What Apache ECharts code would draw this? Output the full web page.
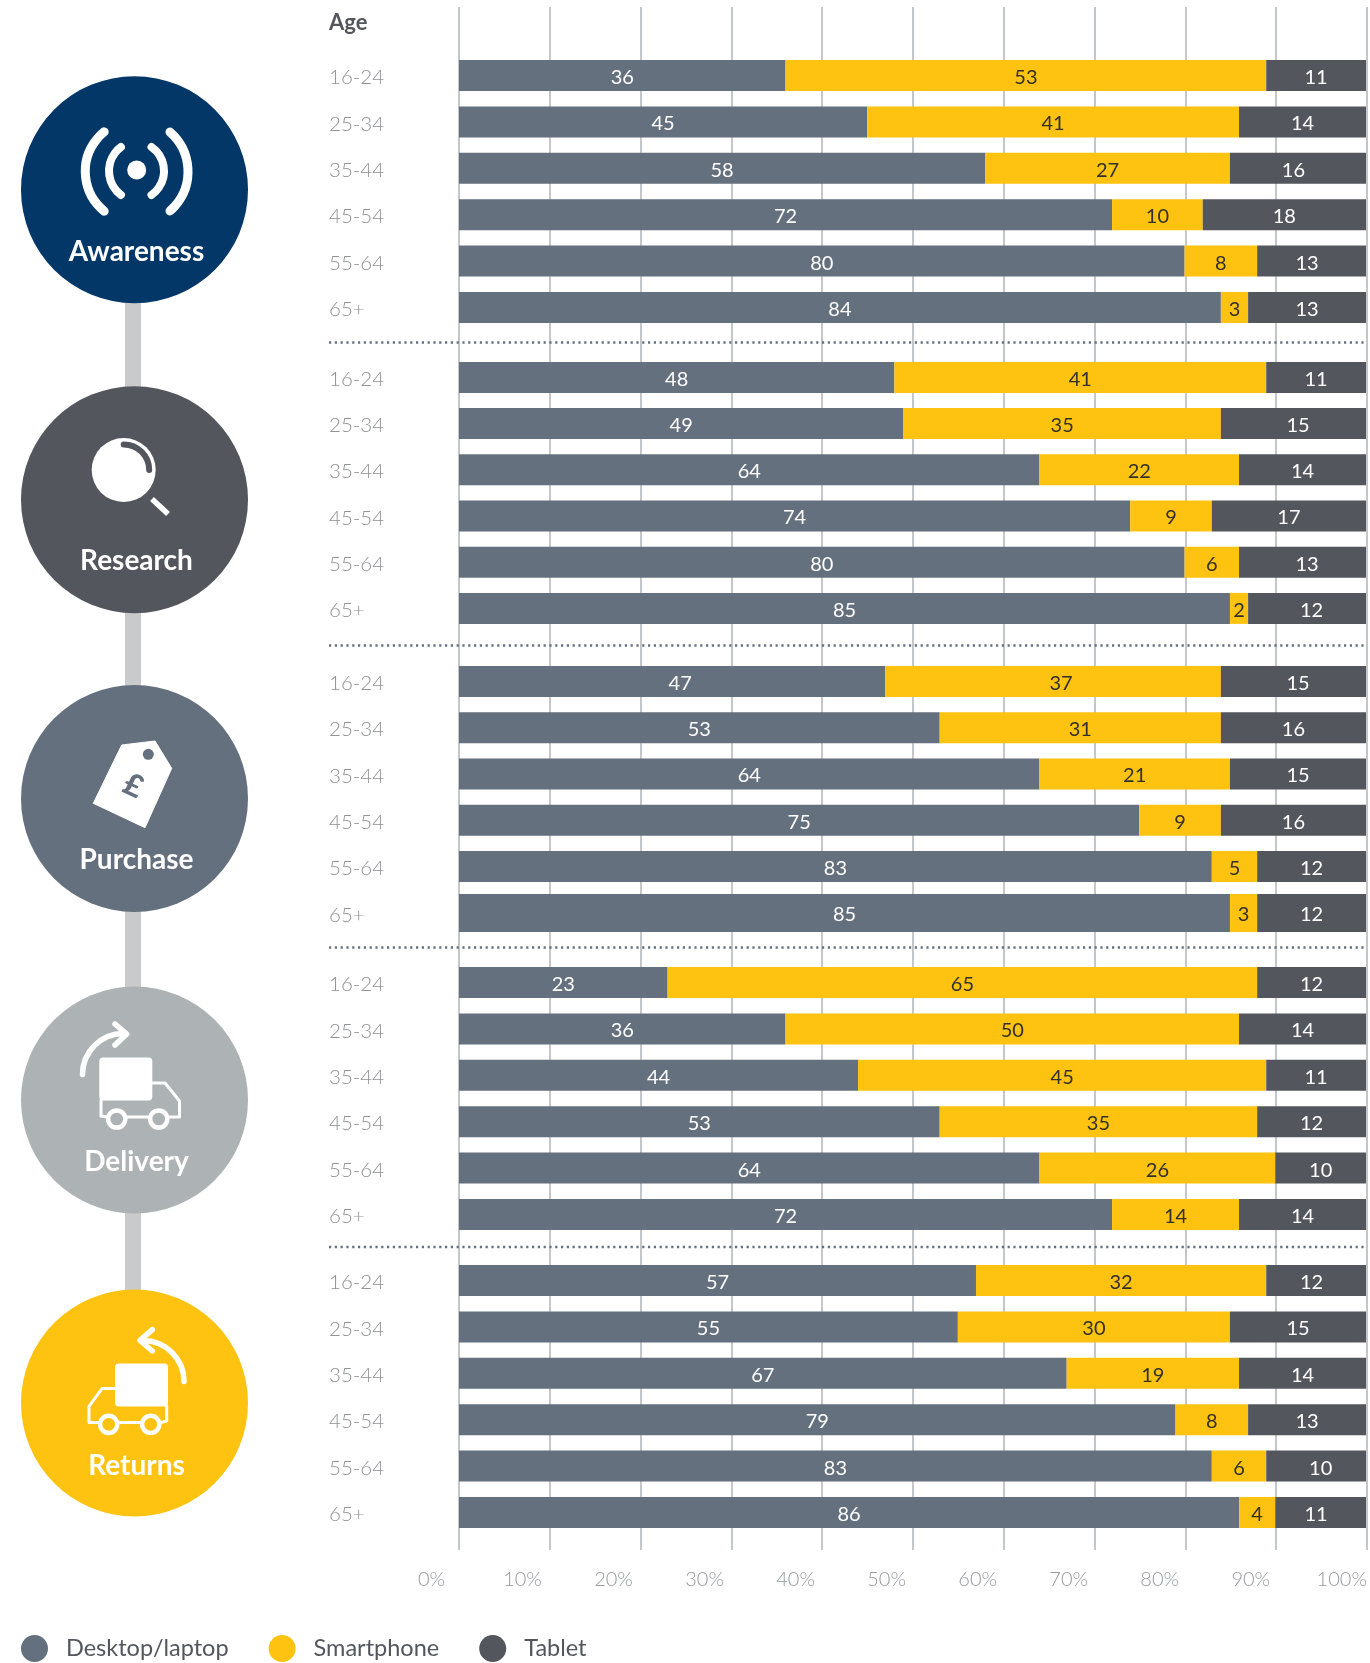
<!DOCTYPE html>
<html>
<head>
<meta charset="utf-8">
<title>Device use by age and shopping stage</title>
<script src="https://cdn.jsdelivr.net/npm/echarts@6/dist/echarts.min.js"></script>
<style>
  html, body { margin: 0; padding: 0; background: #fff; }
  #chart { width: 1370px; height: 1663px; }
</style>
</head>
<body>
<div id="chart"></div>
<script>
const ages = ['16-24', '25-34', '35-44', '45-54', '55-64', '65+']
const stages = ['Awareness', 'Research', 'Purchase', 'Delivery', 'Returns']
const xTicks = [0, 100]

// one row per stage, one value per age band
const desktop = [
  [36, 45, 58, 72, 80, 84],
  [48, 49, 64, 74, 80, 85],
  [47, 53, 64, 75, 83, 85],
  [23, 36, 44, 53, 64, 72],
  [57, 55, 67, 79, 83, 86]
]
const smartphone = [
  [53, 41, 27, 10, 8, 3],
  [41, 35, 22, 9, 6, 2],
  [37, 31, 21, 9, 5, 3],
  [65, 50, 45, 35, 26, 14],
  [32, 30, 19, 8, 6, 4]
]
const tablet = [
  [11, 14, 16, 18, 13, 13],
  [11, 15, 14, 17, 13, 12],
  [15, 16, 15, 16, 12, 12],
  [12, 14, 11, 12, 10, 14],
  [12, 15, 14, 13, 10, 11]
]

const FONT = 'Lato, "Noto Sans", sans-serif'
const DESKTOP = '#65707e'
const YELLOW = '#fec210'
const SLATE = '#53565d'
const NAVY = '#023768'
const SILVER = '#adb3b5'

const PLOT_LEFT = 459
const PLOT_WIDTH = 908
const BAR_WIDTH_PX = 907

// every block is one grid, the 65+ purchase bar is drawn thicker in the original
const blocks = [
  { stage: 0, from: 0, to: 6, top: 52.3, height: 278.4, bar: 31 },
  { stage: 1, from: 0, to: 6, top: 354.3, height: 277.2, bar: 31 },
  { stage: 2, from: 0, to: 5, top: 658.4, height: 231.2, bar: 31 },
  { stage: 2, from: 5, to: 6, top: 890, height: 46, bar: 38 },
  { stage: 3, from: 0, to: 6, top: 959.3, height: 278.4, bar: 31 },
  { stage: 4, from: 0, to: 6, top: 1257.3, height: 278.4, bar: 31 }
]

const grid = []
const xAxis = []
const yAxis = []
const series = []

// gridlines
grid.push({ left: PLOT_LEFT, width: PLOT_WIDTH, top: 7, height: 1543 })
xAxis.push({
  gridIndex: 0, type: 'value', min: xTicks[0], max: xTicks[1], interval: 10,
  axisLine: { show: false }, axisTick: { show: false }, axisLabel: { show: false },
  splitLine: { show: true, lineStyle: { color: '#b1b5b9', width: 1.5 } }
})
yAxis.push({ gridIndex: 0, type: 'value', show: false })

// tick labels sit left of their gridlines, so they get their own axis
grid.push({ left: 431.5, width: 913, top: 1567, height: 1 })
xAxis.push({
  gridIndex: 1, type: 'value', min: xTicks[0], max: xTicks[1], interval: 10,
  axisLine: { show: false }, axisTick: { show: false }, splitLine: { show: false },
  axisLabel: { formatter: '{value}%', margin: 2, color: '#97999c', fontFamily: FONT, fontWeight: 300, fontSize: 20 }
})
yAxis.push({ gridIndex: 1, type: 'value', show: false })

blocks.forEach((block) => {
  const idx = grid.length
  const stage = block.stage
  const rows = ages.slice(block.from, block.to)
  const d = desktop[stage].slice(block.from, block.to)
  const s = smartphone[stage].slice(block.from, block.to)
  const t = tablet[stage].slice(block.from, block.to)

  grid.push({ left: PLOT_LEFT, width: BAR_WIDTH_PX, top: block.top, height: block.height })
  xAxis.push({ gridIndex: idx, type: 'value', min: 0, max: 100, show: false })
  yAxis.push({
    gridIndex: idx, type: 'category', inverse: true, data: rows,
    axisLine: { show: false }, axisTick: { show: false }, splitLine: { show: false },
    axisLabel: {
      align: 'left',
      margin: 130,
      interval: 0,
      formatter: '{age|{value}}',
      // rich text padding is what moves the age labels a little below the bar centre
      rich: { age: { padding: [4, 0, 0, 0], color: '#8f9194', fontFamily: FONT, fontWeight: 300, fontSize: 20.5 } }
    }
  })

  // the 16-24 purchase labels sit a bit right of centre in the original
  const shift = (i) => (stage === 2 && block.from + i === 0 ? 8 : 0)

  const addSeries = (name, color, textColor, items) => {
    series.push({
      name,
      type: 'bar',
      stack: 'block' + idx,
      xAxisIndex: idx,
      yAxisIndex: idx,
      barWidth: block.bar,
      itemStyle: { color },
      data: items.map((item) => ({
        value: item.value,
        label: {
          show: true,
          position: 'inside',
          offset: [item.dx, 2],
          color: textColor,
          fontFamily: FONT,
          fontWeight: 400,
          fontSize: 20,
          formatter: String(item.text)
        }
      }))
    })
  }
  addSeries('Desktop/laptop', DESKTOP, '#fff', d.map((v, i) => ({ value: v, text: v, dx: shift(i) })))
  addSeries('Smartphone', YELLOW, '#33302a', s.map((v, i) => ({ value: v, text: v, dx: shift(i) })))
  // shares do not always add to 100: the bar fills up the row, its label is
  // centred as if the printed share was measured back from 100%
  addSeries('Tablet', SLATE, '#fff', t.map((v, i) => ({
    value: 100 - d[i] - s[i],
    text: v,
    dx: (100 - d[i] - s[i] - v) / 2 * (BAR_WIDTH_PX / 100)
  })))
})

const rad = (deg) => deg * Math.PI / 180

const badge = (cy, color) => ({ type: 'circle', z: 2, shape: { cx: 134.5, cy, r: 113.5 }, style: { fill: color } })
const badgeText = (text, y) => ({
  type: 'text', z: 4, x: 136.5, y,
  style: { text, fill: '#fff', font: '700 28px ' + FONT, align: 'center', verticalAlign: 'middle' }
})
const arc = (cx, cy, r, from, to, width, color) => ({
  type: 'arc', z: 3,
  shape: { cx, cy, r, startAngle: rad(from), endAngle: rad(to), clockwise: true },
  style: { fill: 'none', stroke: color || '#fff', lineWidth: width, lineCap: 'round' }
})
const polyline = (points, width) => ({
  type: 'polyline', z: 3, shape: { points },
  style: { fill: 'none', stroke: '#fff', lineWidth: width, lineCap: 'round', lineJoin: 'round' }
})
const wheel = (cx, cy, back) => ({
  type: 'circle', z: 3, shape: { cx, cy, r: 8.6 },
  style: { fill: back, stroke: '#fff', lineWidth: 4.5 }
})
const separator = (y) => ({
  type: 'line', z: 1, shape: { x1: 329, y1: y, x2: 1367, y2: y },
  style: { stroke: DESKTOP, lineWidth: 2.5, lineDash: [2.2, 3.6] }
})

const graphic = [
  { type: 'rect', z: 1, shape: { x: 125, y: 300, width: 16, height: 1100 }, style: { fill: '#c8cacc' } },

  badge(189.7, NAVY),
  badge(499.7, SLATE),
  badge(798.5, DESKTOP),
  badge(1100, SILVER),
  badge(1403, YELLOW),

  badgeText(stages[0], 252),
  badgeText(stages[1], 561),
  badgeText(stages[2], 860),
  badgeText(stages[3], 1162),
  badgeText(stages[4], 1466),

  // awareness icon
  { type: 'circle', z: 3, shape: { cx: 136.7, cy: 170, r: 9.5 }, style: { fill: '#fff' } },
  arc(139, 171, 30, 127, 233, 8),
  arc(134.7, 171, 29.3, -55, 55, 8),
  arc(136.3, 171.5, 51, 129, 231, 9),
  arc(135.7, 171.5, 52.3, -49, 49, 9),

  // research icon
  { type: 'circle', z: 3, shape: { cx: 123.7, cy: 470, r: 32 }, style: { fill: '#fff' } },
  arc(123.7, 470, 25.5, -90, 0, 6, SLATE),
  { type: 'line', z: 3, shape: { x1: 152, y1: 499, x2: 168, y2: 514 }, style: { stroke: '#fff', lineWidth: 5.5 } },

  // purchase icon
  {
    type: 'polygon', z: 3,
    shape: { points: [[121.7, 745], [155, 741], [171.7, 768.3], [145, 827.7], [93.3, 803.3]] },
    style: { fill: '#fff', stroke: '#fff', lineWidth: 1, lineJoin: 'round' }
  },
  { type: 'circle', z: 3, shape: { cx: 148.3, cy: 754.3, r: 5.5 }, style: { fill: DESKTOP } },
  {
    type: 'text', z: 4, x: 133, y: 786, rotation: rad(-25),
    style: { text: '£', fill: DESKTOP, font: '900 31px ' + FONT, align: 'center', verticalAlign: 'middle' }
  },

  // delivery icon
  arc(123.5, 1074.5, 41, 180, 270, 5.5),
  polyline([[115, 1024], [126.7, 1034], [115, 1045]], 5.5),
  { type: 'rect', z: 3, shape: { x: 99.3, y: 1057.5, width: 53, height: 43, r: 4 }, style: { fill: '#fff' } },
  polyline([[152, 1083], [165, 1083], [179.5, 1101], [179.5, 1117], [170, 1117]], 3),
  polyline([[101, 1100], [101, 1116], [107, 1117]], 3),
  polyline([[127, 1117], [148, 1117]], 3),
  wheel(116.7, 1119, SILVER),
  wheel(158.7, 1119, SILVER),

  // returns icon
  arc(143, 1381.5, 41, -90, 0, 5.5),
  polyline([[152.3, 1329.6], [140, 1340.4], [152.3, 1351]], 5.5),
  { type: 'rect', z: 3, shape: { x: 115, y: 1363.6, width: 53, height: 43, r: 4 }, style: { fill: '#fff' } },
  polyline([[115, 1388.6], [102, 1388.6], [89, 1406.4], [89, 1422.5], [98, 1422.5]], 3),
  polyline([[166.7, 1406], [166.7, 1421], [161, 1422.5]], 3),
  polyline([[118, 1422.5], [140, 1422.5]], 3),
  wheel(108.7, 1424.3, YELLOW),
  wheel(150.7, 1424.3, YELLOW),

  separator(342.5),
  separator(645.5),
  separator(947.5),
  separator(1247),

  {
    type: 'text', z: 4, x: 329, y: 23,
    style: { text: 'Age', fill: SLATE, font: '700 22px ' + FONT, align: 'left', verticalAlign: 'middle' }
  }
]

const chart = echarts.init(document.getElementById('chart'))
chart.setOption({
  animation: false,
  backgroundColor: '#fff',
  grid,
  xAxis,
  yAxis,
  series,
  graphic,
  legend: {
    left: 21,
    top: 1635,
    padding: 0,
    itemWidth: 27,
    itemHeight: 27,
    itemGap: 40,
    icon: 'circle',
    selectedMode: false,
    data: ['Desktop/laptop', 'Smartphone', 'Tablet'],
    textStyle: { color: SLATE, fontFamily: FONT, fontWeight: 400, fontSize: 23.5, padding: [0, 0, 0, 13] }
  }
})

window.addEventListener('resize', () => chart.resize())
</script>
</body>
</html>
